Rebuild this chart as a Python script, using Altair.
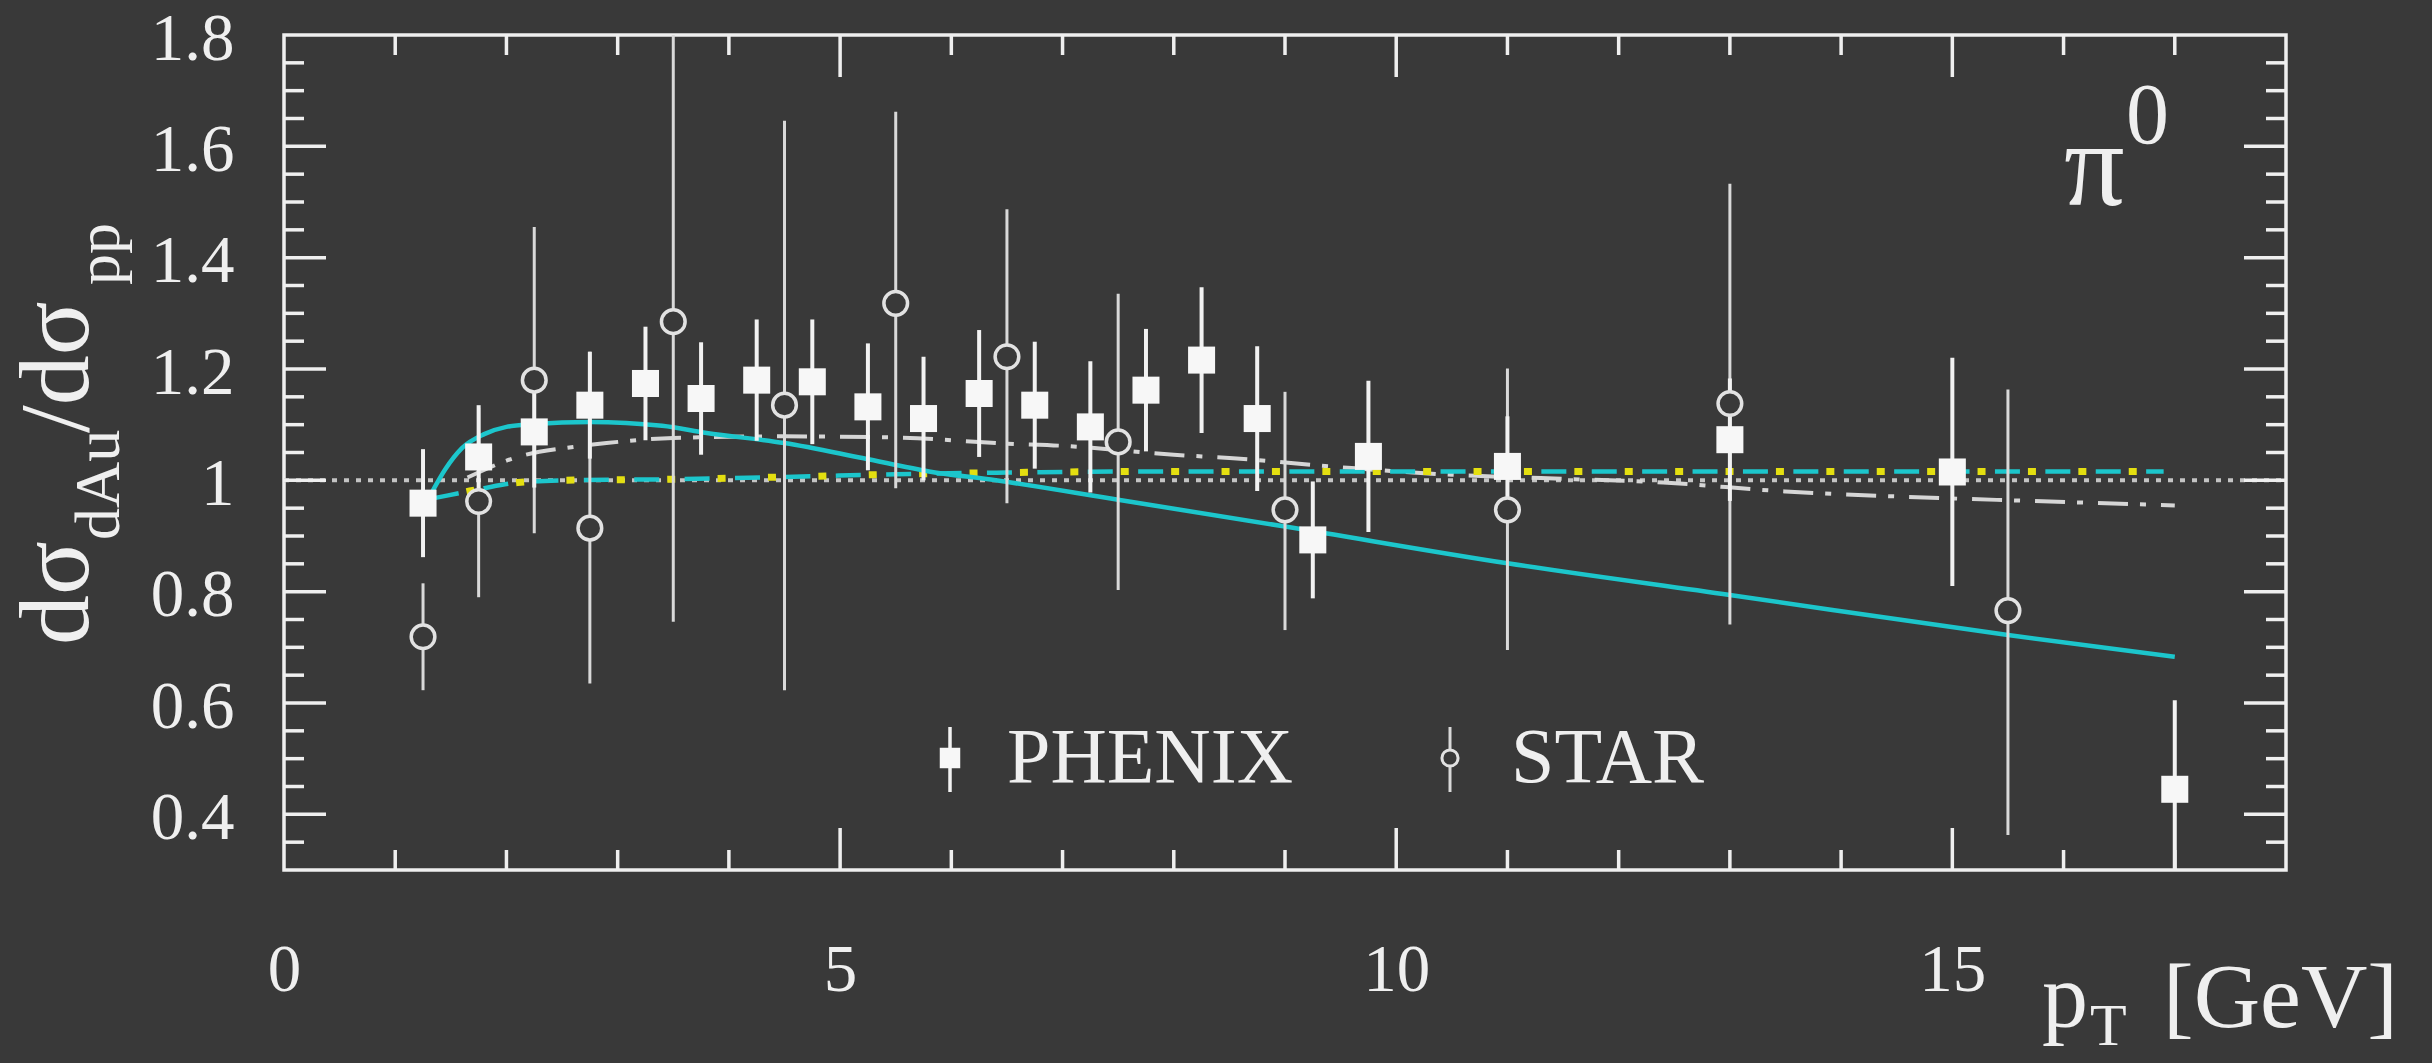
import altair as alt
import pandas as pd

# ---- data -------------------------------------------------------------
# PHENIX pi0 ratio points (filled squares) with symmetric errors
phenix_pt = [1.25, 1.75, 2.25, 2.75, 3.25, 3.75, 4.25, 4.75, 5.25, 5.75, 6.25,
             6.75, 7.25, 7.75, 8.25, 8.75, 9.25, 9.75, 11.0, 13.0, 15.0, 17.0]
phenix_r = [0.959, 1.042, 1.087, 1.135, 1.174, 1.147, 1.180, 1.177, 1.132, 1.111, 1.156,
            1.135, 1.096, 1.162, 1.216, 1.111, 0.893, 1.043, 1.025, 1.073, 1.015, 0.445]
phenix_err = [0.097, 0.093, 0.100, 0.096, 0.102, 0.101, 0.109, 0.112, 0.114, 0.111, 0.114,
              0.114, 0.118, 0.110, 0.131, 0.130, 0.105, 0.136, 0.090, 0.110, 0.205, 0.160]

# STAR points (open circles) with their error ranges
star_pt = [1.25, 1.75, 2.25, 2.75, 3.5, 4.5, 5.5, 6.5, 7.5, 9.0, 11.0, 13.0, 15.5]
star_r = [0.719, 0.962, 1.180, 0.914, 1.285, 1.135, 1.318, 1.222, 1.069, 0.947, 0.947, 1.138, 0.766]
star_lo = [0.623, 0.790, 0.905, 0.635, 0.746, 0.623, 0.986, 0.959, 0.803, 0.731, 0.695, 0.741, 0.363]
star_hi = [0.815, 1.130, 1.455, 1.231, 1.825, 1.646, 1.662, 1.487, 1.335, 1.159, 1.201, 1.533, 1.163]

# model curves
solid_pt = [1.32, 1.45, 1.6, 1.8, 2.0, 2.25, 2.75, 3.4, 3.8, 4.5, 5.2, 5.8, 6.4,
            7.5, 9.0, 11.0, 13.0, 15.5, 17.0]
solid_r = [0.975, 1.020, 1.058, 1.083, 1.096, 1.101, 1.105, 1.098, 1.085, 1.067, 1.040, 1.016, 1.000,
           0.965, 0.917, 0.851, 0.794, 0.722, 0.683]

dashed_pt = [1.35, 1.6, 1.8, 2.1, 2.5, 3.5, 4.5, 5.5, 6.5, 8.0, 10.0, 13.0, 16.9]
dashed_r = [0.968, 0.978, 0.986, 0.996, 1.000, 1.002, 1.006, 1.011, 1.014, 1.016, 1.016, 1.016, 1.016]

dashdot_pt = [1.65, 2.1, 2.6, 2.9, 3.5, 4.5, 5.5, 6.5, 7.0, 8.0, 8.5, 9.6, 10.5, 11.3,
              12.4, 13.5, 14.5, 15.7, 17.0]
dashdot_r = [1.005, 1.042, 1.060, 1.067, 1.076, 1.079, 1.077, 1.066, 1.062, 1.046, 1.040, 1.022,
             1.010, 1.004, 0.996, 0.980, 0.971, 0.963, 0.955]

unity_pt = [0, 18]
unity_r = [1.0, 1.0]

# axis labels and tick positions
x_labels = [0, 5, 10, 15]
y_labels = [0.4, 0.6, 0.8, 1.0, 1.2, 1.4, 1.6, 1.8]
x_major_ticks = [5, 10, 15]
x_minor_ticks = [1, 2, 3, 4, 6, 7, 8, 9, 11, 12, 13, 14, 16, 17]
y_major_ticks = [0.4, 0.6, 0.8, 1.0, 1.2, 1.4, 1.6]
y_minor_ticks = [0.35, 0.45, 0.5, 0.55, 0.65, 0.7, 0.75, 0.85, 0.9, 0.95, 1.05, 1.1, 1.15,
                 1.25, 1.3, 1.35, 1.45, 1.5, 1.55, 1.65, 1.7, 1.75]

# ---- styling ----------------------------------------------------------
W, H = 2002, 835
BG = "#393939"
FG = "#efefef"
CYAN = "#1cc6cc"
YELLOW = "#e4df10"
FONT = "Liberation Serif"
MAJ, MIN = 42, 20

x_scale = alt.Scale(domain=[0, 18], nice=False, zero=False)
y_scale = alt.Scale(domain=[0.3, 1.8], nice=False, zero=False)
x_axis = alt.Axis(values=x_labels, domain=False, ticks=False, tickSize=0, grid=False,
                  labelFont=FONT, labelFontSize=67, labelColor=FG, labelPadding=120,
                  labelBaseline="alphabetic", labelFlush=False, labelOverlap=False,
                  labelBound=False, title=None)
y_axis = alt.Axis(values=y_labels, format="~g", domain=False, ticks=False, tickSize=0, grid=False,
                  labelFont=FONT, labelFontSize=67, labelColor=FG, labelPadding=50,
                  labelBaseline="middle", labelOffset=4, labelOverlap=False, labelBound=False,
                  title=None)


def xenc(field="x"):
    return alt.X(f"{field}:Q", scale=x_scale, axis=x_axis, title=None)


def yenc(field="y"):
    return alt.Y(f"{field}:Q", scale=y_scale, axis=y_axis, title=None)


phenix = pd.DataFrame({
    "x": phenix_pt, "y": phenix_r,
    "lo": [r - e for r, e in zip(phenix_r, phenix_err)],
    "hi": [r + e for r, e in zip(phenix_r, phenix_err)],
})
star = pd.DataFrame({"x": star_pt, "y": star_r, "lo": star_lo, "hi": star_hi})
solid = pd.DataFrame({"x": solid_pt, "y": solid_r})
dashed = pd.DataFrame({"x": dashed_pt, "y": dashed_r})
dashdot = pd.DataFrame({"x": dashdot_pt, "y": dashdot_r})
unity = pd.DataFrame({"x": unity_pt, "y": unity_r})
one = pd.DataFrame({"k": [0]})

layers = []

# reference line at unity
layers.append(alt.Chart(unity).mark_line(color="#c4c4c4", strokeWidth=4, strokeDash=[5, 7])
              .encode(x=xenc(), y=yenc()))

# model curves
layers.append(alt.Chart(dashdot).mark_line(color="#d6d6d6", strokeWidth=4, interpolate="monotone",
                                           strokeDash=[30, 12, 6, 15])
              .encode(x=xenc(), y=yenc()))
layers.append(alt.Chart(dashed).mark_line(color=CYAN, strokeWidth=4.5, interpolate="monotone",
                                          strokeDash=[25, 25.4])
              .encode(x=xenc(), y=yenc()))
layers.append(alt.Chart(dashed).mark_line(color=YELLOW, strokeWidth=7, interpolate="monotone",
                                          strokeDash=[8, 42.4], strokeDashOffset=17.4)
              .encode(x=xenc(), y=yenc()))
layers.append(alt.Chart(solid).mark_line(color=CYAN, strokeWidth=4.5, interpolate="monotone")
              .encode(x=xenc(), y=yenc()))

# error bars
layers.append(alt.Chart(star).mark_rule(color="#d9d9d9", strokeWidth=3, clip=True)
              .encode(x=xenc(), y=yenc("lo"), y2="hi:Q"))
layers.append(alt.Chart(phenix).mark_rule(color="#f2f2f2", strokeWidth=4, clip=True)
              .encode(x=xenc(), y=yenc("lo"), y2="hi:Q"))

# markers
layers.append(alt.Chart(star).mark_point(shape="circle", size=560, filled=False, fill=BG,
                                         fillOpacity=1, stroke="#e2e2e2", strokeWidth=3.5,
                                         opacity=1)
              .encode(x=xenc(), y=yenc()))
layers.append(alt.Chart(phenix).mark_point(shape="square", size=730, filled=True, color="#f7f7f7",
                                           opacity=1)
              .encode(x=xenc(), y=yenc()))

# inward ticks on all four sides
tick_style = dict(color=FG, strokeWidth=3.5)
xmaj = pd.DataFrame({"x": x_major_ticks})
xmin = pd.DataFrame({"x": x_minor_ticks})
ymaj = pd.DataFrame({"y": y_major_ticks})
ymin = pd.DataFrame({"y": y_minor_ticks})
for df, ln in [(xmaj, MAJ), (xmin, MIN)]:
    layers.append(alt.Chart(df).mark_rule(**tick_style)
                  .encode(x=xenc(), y=alt.value(H), y2=alt.value(H - ln)))
    layers.append(alt.Chart(df).mark_rule(**tick_style)
                  .encode(x=xenc(), y=alt.value(0), y2=alt.value(ln)))
for df, ln in [(ymaj, MAJ), (ymin, MIN)]:
    layers.append(alt.Chart(df).mark_rule(**tick_style)
                  .encode(y=yenc(), x=alt.value(0), x2=alt.value(ln)))
    layers.append(alt.Chart(df).mark_rule(**tick_style)
                  .encode(y=yenc(), x=alt.value(W), x2=alt.value(W - ln)))


def label(text, x, y, size, angle=0):
    return (alt.Chart(one)
            .mark_text(text=text, font=FONT, fontSize=size, color=FG, align="left",
                       baseline="alphabetic", angle=angle)
            .encode(x=alt.value(x), y=alt.value(y)))


# legend
layers.append(alt.Chart(one).mark_rule(color="#f2f2f2", strokeWidth=3.5)
              .encode(x=alt.value(666), y=alt.value(692), y2=alt.value(757)))
layers.append(alt.Chart(one).mark_point(shape="square", size=420, filled=True, color="#f7f7f7",
                                        opacity=1)
              .encode(x=alt.value(666), y=alt.value(723)))
layers.append(alt.Chart(one).mark_rule(color="#d9d9d9", strokeWidth=3)
              .encode(x=alt.value(1166), y=alt.value(692), y2=alt.value(757)))
layers.append(alt.Chart(one).mark_point(shape="circle", size=260, filled=False, fill=BG,
                                        fillOpacity=1, stroke="#e2e2e2", strokeWidth=3,
                                        opacity=1)
              .encode(x=alt.value(1166), y=alt.value(723)))
layers.append(label("PHENIX", 723, 747, 78))
layers.append(label("STAR", 1227, 747, 78))

# particle tag
layers.append(label("π", 1780, 170, 120))
layers.append(label("0", 1842, 108, 86))

# x-axis title: p_T [GeV]
layers.append(label("p", 1758, 992, 92))
layers.append(label("T", 1806, 1010, 60))
layers.append(label("[GeV]", 1879, 992, 92))

# y-axis title: dσ_dAu / dσ_pp (reads bottom to top)
layers.append(label("dσ", -196, 610, 100, angle=270))
layers.append(label("dAu", -165, 505, 64, angle=270))
layers.append(label("/dσ", -196, 398, 100, angle=270))
layers.append(label("pp", -165, 250, 62, angle=270))

chart = (
    alt.layer(*layers)
    .properties(width=W, height=H,
                padding={"left": 284, "top": 35, "right": 146, "bottom": 193},
                autosize=alt.AutoSizeParams(type="none"))
    .configure(background=BG)
    .configure_view(stroke=FG, strokeWidth=3.5)
)

chart.save("out.html", embed_options={"renderer": "svg", "actions": False})
